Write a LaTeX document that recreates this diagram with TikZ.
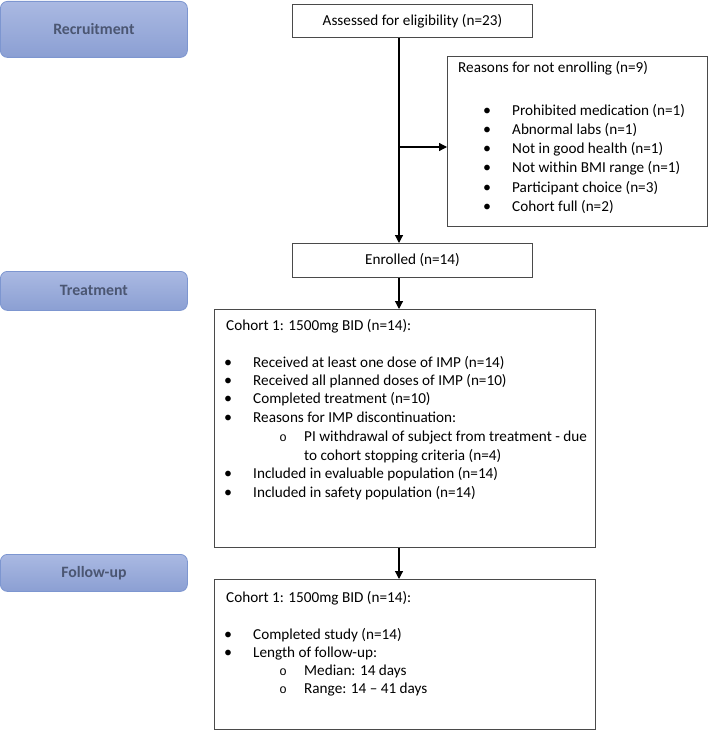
\documentclass[tikz,border=0pt]{standalone}
\usepackage{fontspec}
\setmainfont{Carlito}
\newfontfamily\monof{Liberation Mono}
\usetikzlibrary{arrows.meta}
\definecolor{stgtop}{HTML}{AAB9E2}
\definecolor{stgbot}{HTML}{8B9FD3}
\definecolor{stgline}{HTML}{7D96D0}
\definecolor{stgtext}{HTML}{4B5672}
\definecolor{boxline}{HTML}{4A4A4A}
\begin{document}
\begin{tikzpicture}[x=1pt,y=-1pt,
  stage/.style={draw=stgline, line width=0.8pt, rounded corners=7pt,
    top color=stgtop, bottom color=stgbot, anchor=north west,
    minimum width=187pt, text=stgtext, font=\fontsize{15.8}{19}\selectfont\bfseries, inner sep=0pt},
  box/.style={draw=boxline, line width=0.9pt, anchor=north west, inner sep=0pt,
    font=\fontsize{15.2}{18}\selectfont},
  txt/.style={anchor=base west, inner sep=0pt, font=\fontsize{15.2}{18}\selectfont},
  bul/.style={anchor=base, inner sep=0pt, font=\fontsize{16}{18}\selectfont},
  sub/.style={anchor=base, inner sep=0pt, font=\monof\fontsize{12.5}{15}\selectfont},
  arr/.style={draw=black, line width=1.2pt, -{Triangle[length=8pt,width=8pt]}}
]
\useasboundingbox (0,0) rectangle (709,730);

% stage labels
\node[stage, minimum height=56pt] (recr) at (0,1) {Recruitment};
\node[stage, minimum height=39pt] (treat) at (0,271) {Treatment};
\node[stage, minimum height=37pt] (foll) at (0,554) {Follow-up};

% boxes
\node[box, minimum width=240pt, minimum height=33pt] (assess) at (292,4) {Assessed for eligibility (n=23)};
\node[box, minimum width=260pt, minimum height=170pt] (reasons) at (447,56) {};
\node[box, minimum width=240pt, minimum height=34pt] (enrol) at (292,243) {Enrolled (n=14)};
\node[box, minimum width=381pt, minimum height=238pt] (coh1) at (214,309) {};
\node[box, minimum width=381pt, minimum height=150pt] (coh2) at (214,579) {};

% reasons text
\node[txt] (rt) at (458,72.5) {Reasons for not enrolling (n=9)};
\foreach \y/\t [count=\i] in {111/Prohibited medication (n=1),
  130/Abnormal labs (n=1),
  149/Not in good health (n=1),
  168/Not within BMI range (n=1),
  187/Participant choice (n=3),
  206/Cohort full (n=2)}{
  \node[bul] (rb\i) at (487,\y+5) {\textbullet};
  \node[txt] (rl\i) at (512,\y+5) {\t};
}

% cohort 1 text
\node[txt] (c1t) at (226,330.5) {Cohort 1: 1500mg BID (n=14):};
\foreach \y/\t [count=\i] in {362/Received at least one dose of IMP (n=14),
  380/Received all planned doses of IMP (n=10),
  398/Completed treatment (n=10),
  417/Reasons for IMP discontinuation:,
  473/Included in evaluable population (n=14),
  492/Included in safety population (n=14)}{
  \node[bul] (c1b\i) at (228,\y+5) {\textbullet};
  \node[txt] (c1l\i) at (253,\y+5) {\t};
}
\node[sub] (c1s) at (283,441) {o};
\node[txt] (c1s1) at (304,441.5) {PI withdrawal of subject from treatment - due};
\node[txt] (c1s2) at (304,460) {to cohort stopping criteria (n=4)};

% cohort 2 text
\node[txt] (c2t) at (226,602) {Cohort 1: 1500mg BID (n=14):};
\node[bul] (c2b1) at (228,639) {\textbullet};
\node[txt] (c2l1) at (253,639) {Completed study (n=14)};
\node[bul] (c2b2) at (228,657) {\textbullet};
\node[txt] (c2l2) at (253,657) {Length of follow-up:};
\node[sub] (c2s1) at (283,675) {o};
\node[txt] (c2m) at (304,675) {Median: 14 days};
\node[sub] (c2s2) at (283,693) {o};
\node[txt] (c2r) at (304,693) {Range: 14 – 41 days};

% connectors
\coordinate (spine) at (399,0);
\coordinate (branch) at (399,147);
\draw[arr] (assess.south -| spine) -- (enrol.north -| spine);
\draw[arr] (branch) -- (branch -| reasons.west);
\draw[arr] (enrol.south -| spine) -- (coh1.north -| spine);
\draw[arr] (coh1.south -| spine) -- (coh2.north -| spine);
\end{tikzpicture}
\end{document}
